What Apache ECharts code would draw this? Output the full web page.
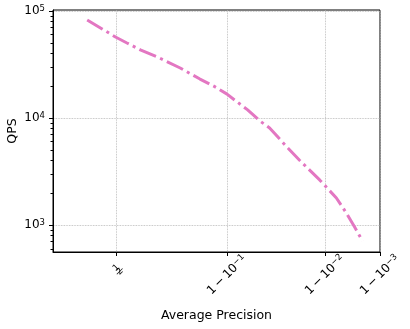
<!DOCTYPE html>
<html>
<head>
<meta charset="utf-8">
<script src="https://cdn.jsdelivr.net/npm/echarts@6/dist/echarts.min.js"></script>
<style>
  html, body { margin: 0; padding: 0; background: #fff; }
  #chart { width: 410px; height: 329px; }
</style>
</head>
<body>
<div id="chart"></div>
<script>
// values
const precision = [0.302, 0.410, 0.495, 0.561, 0.629, 0.712, 0.786, 0.842, 0.877, 0.900,
  0.913, 0.932, 0.947, 0.957, 0.971, 0.979, 0.9882, 0.99317, 0.99526, 0.99659, 0.99759];
const qps = [82400, 67900, 57100, 50200, 43300, 36400, 29300, 23100, 19500, 16700,
  14700, 11900, 9380, 8070, 5400, 4050, 2640, 1790, 1295, 958, 708];

const xTickValues = [0.5, 0.9, 0.99, 0.999];
const xTickExp = [null, '−1', '−2', '−3'];
const yTickValues = [1000, 10000, 100000];
const yTickExp = ['3', '4', '5'];
const yMinorTicks = [600, 700, 800, 900, 2000, 3000, 4000, 5000, 6000, 7000, 8000, 9000,
  20000, 30000, 40000, 50000, 60000, 70000, 80000, 90000];

// x scale: 1 - (1 - x)^(1/4)
const alpha = 4;
const fun = x => 1 - Math.pow(1 - x, 1 / alpha);

const font = 'DejaVu Sans';
const gridColor = '#b0b0b0';
const sup = {
  b: { fontSize: 12, lineHeight: 14, color: '#000', fontFamily: font },
  s: { fontSize: 8.5, lineHeight: 3, verticalAlign: 'top', color: '#000', fontFamily: font }
};

let chart = echarts.init(document.getElementById('chart'));
chart.setOption({
  animation: false,
  textStyle: { fontFamily: font },
  grid: {
    left: 53, right: 30, top: 10, bottom: 77,
    outerBoundsMode: 'none',
    containLabel: false,
    show: true, borderColor: '#000', borderWidth: 1
  },
  xAxis: {
    type: 'value',
    min: 0,
    max: fun(0.999),
    name: 'Average Precision',
    nameLocation: 'middle',
    nameGap: 57,
    nameMoveOverlap: false,
    nameTextStyle: { fontSize: 12.5, color: '#000', fontFamily: font },
    axisLine: { show: true, lineStyle: { color: '#000', width: 1 } },
    axisTick: { show: true, length: 4, customValues: xTickValues.map(fun), lineStyle: { color: '#000' } },
    splitLine: { show: true, lineStyle: { color: gridColor, type: 'dotted', width: 0.8 } },
    axisLabel: {
      customValues: xTickValues.map(fun),
      rotate: 45,
      align: 'center',
      verticalAlign: 'middle',
      margin: 23,
      color: '#000',
      fontSize: 12,
      fontFamily: font,
      formatter: v => {
        let i = xTickValues.findIndex(t => Math.abs(fun(t) - v) < 1e-6);
        if (i < 0) return '';
        if (i === 0) return '{f|1}\n{r|—}\n{g|2}';
        return '{b|1\u2009−\u200910}{s|' + xTickExp[i] + '}';
      },
      rich: Object.assign({
        f: { fontSize: 9, lineHeight: 7, color: '#000', fontFamily: font, padding: [0, 0, 0, 10] },
        r: { fontSize: 9, lineHeight: 3, color: '#000', fontFamily: font, padding: [0, 0, 0, 10] },
        g: { fontSize: 9, lineHeight: 7, color: '#000', fontFamily: font, padding: [0, 0, 10, 10] }
      }, sup)
    }
  },
  yAxis: [
    {
      type: 'log',
      min: 560,
      max: 102000,
      name: 'QPS',
      nameLocation: 'middle',
      nameGap: 34,
      nameMoveOverlap: false,
      nameTextStyle: { fontSize: 12.5, color: '#000', fontFamily: font },
      axisLine: { show: true, lineStyle: { color: '#000', width: 1 } },
      axisTick: { show: true, length: 4, customValues: yTickValues, lineStyle: { color: '#000' } },
      splitLine: { show: true, lineStyle: { color: gridColor, type: 'dotted', width: 0.8 } },
      axisLabel: {
        customValues: yTickValues,
        margin: 8,
        formatter: v => {
          let i = yTickValues.findIndex(t => Math.abs(t - v) / t < 1e-6);
          return i < 0 ? '' : '{b|10}{s|' + yTickExp[i] + '}';
        },
        rich: sup
      }
    },
    {
      // minor ticks, moved onto the left spine
      type: 'log',
      min: 560,
      max: 102000,
      position: 'right',
      offset: -327,
      axisLine: { show: false },
      axisTick: { show: true, inside: true, length: 2.5, customValues: yMinorTicks, lineStyle: { color: '#000', width: 1 } },
      splitLine: { show: false },
      axisLabel: { show: false }
    }
  ],
  series: [
    {
      type: 'line',
      data: precision.map((p, i) => [fun(p), qps[i]]),
      showSymbol: false,
      lineStyle: { color: '#e377c2', width: 3, type: [18, 4.5, 3, 4.5] }
    }
  ]
});
</script>
</body>
</html>
